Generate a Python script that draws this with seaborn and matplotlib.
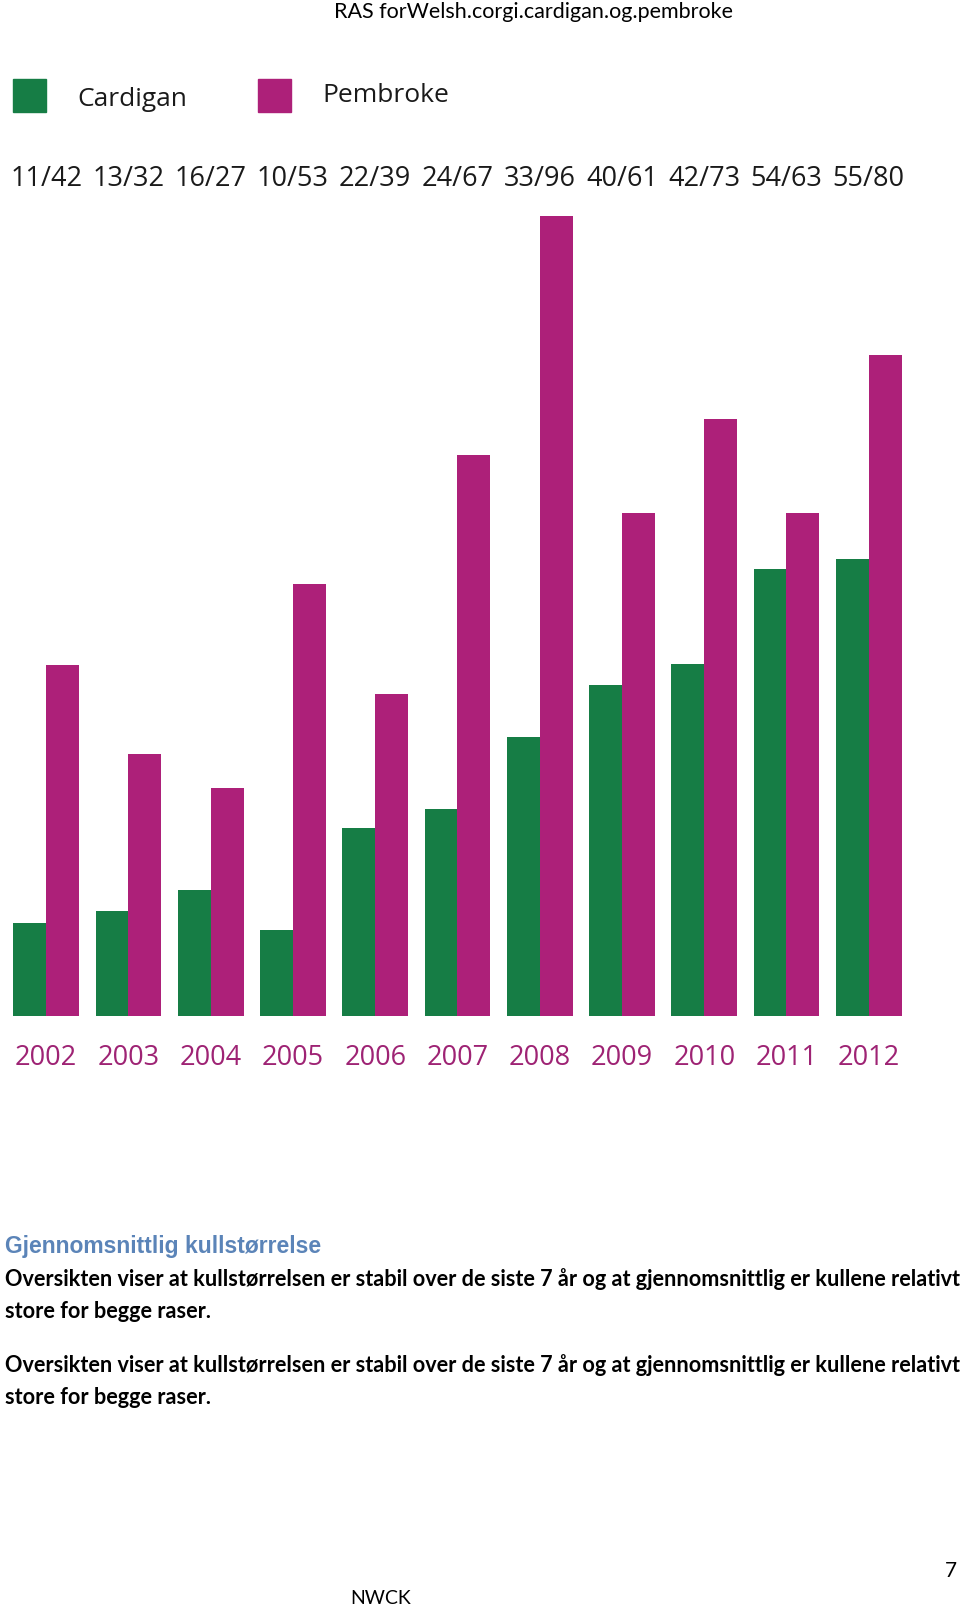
import pandas as pd
import seaborn as sns
import matplotlib.pyplot as plt
import matplotlib.transforms as mtransforms
from matplotlib.patches import Rectangle

years = ['2002', '2003', '2004', '2005', '2006', '2007', '2008', '2009', '2010', '2011', '2012']
# bar heights as drawn in the picture (litter size)
cardigan = [11.2, 12.6, 15.1, 10.3, 22.6, 24.8, 33.5, 39.7, 42.2, 53.7, 54.9]
pembroke = [42.1, 31.4, 27.4, 51.9, 38.7, 67.3, 96.0, 60.4, 71.6, 60.4, 79.3]
# labels printed above the bars
ratio_labels = ['11/42', '13/32', '16/27', '10/53', '22/39', '24/67',
                '33/96', '40/61', '42/73', '54/63', '55/80']
breeds = ['Cardigan', 'Pembroke']

header = 'RAS forWelsh.corgi.cardigan.og.pembroke'
subtitle = 'Gjennomsnittlig kullstørrelse'
para = ['Oversikten viser at kullstørrelsen er stabil over de siste 7 år og at gjennomsnittlig er kullene relativt',
        'store for begge raser.']

GREEN = '#167d45'
PINK = '#ad2079'
YEARCOL = '#9e2374'

df = pd.DataFrame({'year': years * 2,
                   'breed': [breeds[0]] * len(years) + [breeds[1]] * len(years),
                   'value': cardigan + pembroke})

W, H = 960, 1609
fig = plt.figure(figsize=(W / 100, H / 100), dpi=100)


def fy(py):
    return 1 - py / H


def fx(px):
    return px / W


# axes: baseline at y=1016 px, top of 96 at y=216 px
ax = fig.add_axes([0, fy(1016), 1, fy(216) - fy(1016)])
sns.barplot(data=df, x='year', y='value', hue='breed', palette=[GREEN, PINK],
            width=0.8, saturation=1, legend=False, ax=ax, errorbar=None)
ax.set_ylim(0, 96)
ax.set_xlim(-0.562, 11.11)
for s in ax.spines.values():
    s.set_visible(False)
ax.set_yticks([])
ax.set_xlabel('')
ax.set_ylabel('')
ax.set_facecolor('none')
ax.tick_params(axis='x', length=0, pad=20, labelsize=19.5, labelcolor=YEARCOL)
for lab in ax.get_xticklabels():
    lab.set_family('Open Sans')

# ratio labels above the bars
trans = mtransforms.blended_transform_factory(ax.transData, fig.transFigure)
for i, lab in enumerate(ratio_labels):
    ax.text(i, fy(186), lab, transform=trans, ha='center', va='baseline',
            fontsize=19.5, family='Open Sans', color='#1a1a1a')

# legend
for (x0, name, col, ty) in [(13, breeds[0], GREEN, 100), (258, breeds[1], PINK, 96)]:
    fig.patches.append(Rectangle((fx(x0), fy(112)), fx(33), fy(79) - fy(112),
                                 transform=fig.transFigure, color=col))
    fig.text(fx(x0 + 64), fy(ty), name, ha='left', va='center', fontsize=19,
             family='Open Sans', color='#1a1a1a')

# page text
fig.text(fx(534), fy(12), header, ha='center', va='center', fontsize=15.5,
         family='Lato', color='black')
fig.text(fx(5), fy(1246), subtitle, ha='left', va='center', fontsize=16.5,
         family='Liberation Sans', fontweight='bold', color='#5b84b8')
for y0 in (1279, 1365):
    fig.text(fx(5), fy(y0), para[0], ha='left', va='center', fontsize=15.6,
             family='Lato', fontweight='bold', color='black')
    fig.text(fx(5), fy(y0 + 32), para[1], ha='left', va='center', fontsize=15.6,
             family='Lato', fontweight='bold', color='black')
fig.text(fx(350), fy(1599), 'NWCK', ha='left', va='center', fontsize=14,
         family='Lato', color='black')
fig.text(fx(957), fy(1571), '7', ha='right', va='center', fontsize=15,
         family='Lato', color='black')

fig.savefig('out.png', dpi=100, facecolor='white')
